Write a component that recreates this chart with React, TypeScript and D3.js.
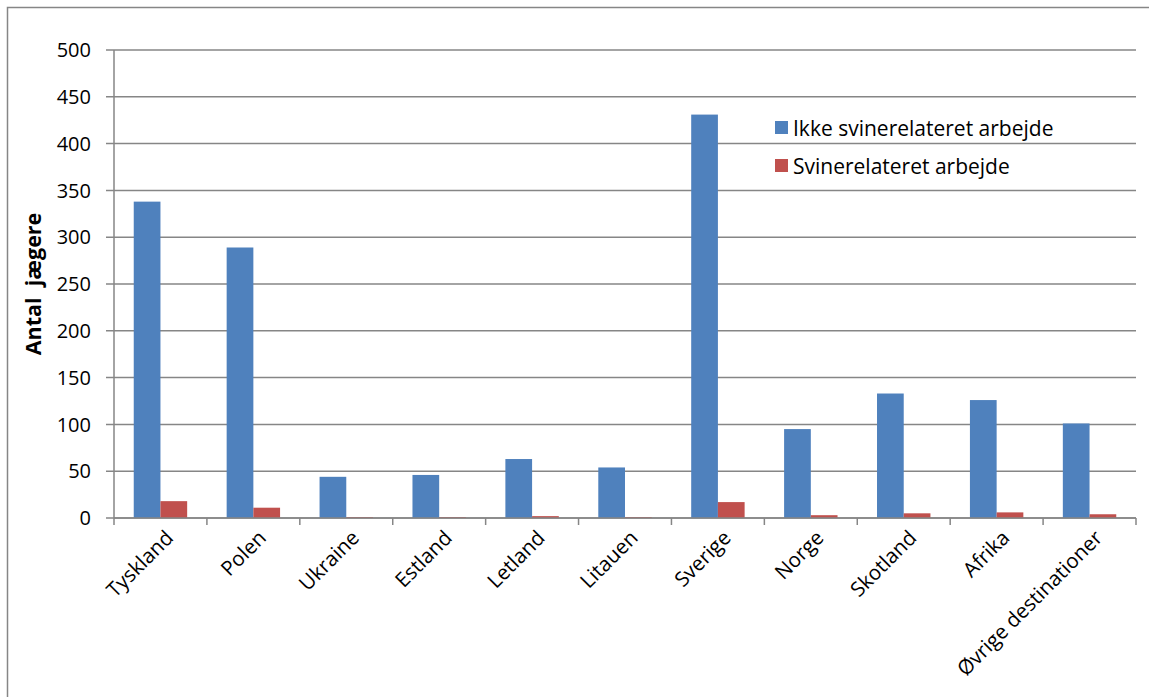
import React from "react";
import * as d3 from "d3";

const categories = [
  "Tyskland", "Polen", "Ukraine", "Estland", "Letland", "Litauen",
  "Sverige", "Norge", "Skotland", "Afrika", "Øvrige destinationer",
];
const ikkeSvin = [338, 289, 44, 46, 63, 54, 431, 95, 133, 126, 101];
const svin = [18, 11, 1, 1, 2, 1, 17, 3, 5, 6, 4];
const seriesNames = ["Ikke svinerelateret arbejde", "Svinerelateret arbejde"];
const seriesColors = ["#4f81bd", "#c0504d"];
const yTicks = [0, 50, 100, 150, 200, 250, 300, 350, 400, 450, 500];

const W = 1149;
const H = 697;
const left = 114;
const right = 1136;
const top = 50;
const bottom = 518;
const FONT = "'Open Sans', 'Noto Sans', sans-serif";
const GRID = "#868686";

export default function App() {
  const x = d3.scaleBand<string>().domain(categories).range([left, right]).padding(0);
  const y = d3.scaleLinear().domain([0, 500]).range([bottom, top]);
  const bw = x.bandwidth() * 0.2875;
  const series = [ikkeSvin, svin];
  const boundaries = d3.range(categories.length + 1).map((i) => left + i * x.step());

  return (
    <svg width={W} height={H} style={{ position: "absolute", left: 0, top: 0, background: "#fff" }}>
      <rect x={0} y={0} width={W} height={H} fill="#fff" />
      <path d={`M7.5,${H + 5}V7.5H${W + 5}`} fill="none" stroke={GRID} strokeWidth={1.5} />
      {yTicks.map((t) => (
        <g key={t}>
          <line x1={left - 8} x2={right} y1={y(t)} y2={y(t)} stroke={GRID} strokeWidth={1.5} />
          <text x={91} y={y(t)} dy="0.36em" textAnchor="end" fontFamily={FONT} fontSize={20} fill="#000">
            {t}
          </text>
        </g>
      ))}
      <line x1={left} x2={left} y1={top} y2={bottom} stroke={GRID} strokeWidth={1.5} />
      {series.map((vals, si) =>
        vals.map((v, i) => {
          const cx = (x(categories[i]) as number) + x.bandwidth() / 2;
          const bx = cx - bw + si * bw;
          return (
            <rect
              key={`${si}-${i}`}
              x={bx}
              y={y(v)}
              width={bw}
              height={bottom - y(v)}
              fill={seriesColors[si]}
            />
          );
        })
      )}
      <line x1={left} x2={right} y1={bottom} y2={bottom} stroke={GRID} strokeWidth={1.5} />
      {boundaries.map((b, i) => (
        <line key={i} x1={b} x2={b} y1={bottom} y2={bottom + 7} stroke={GRID} strokeWidth={1.5} />
      ))}
      {categories.map((c) => {
        const cx = (x(c) as number) + x.bandwidth() / 2 + 4;
        return (
          <text
            key={c}
            transform={`translate(${cx},${bottom + 11}) rotate(-45)`}
            textAnchor="end"
            dy="0.7em"
            fontFamily={FONT}
            fontSize={20.5}
            fill="#000"
          >
            {c}
          </text>
        );
      })}
      <text
        transform={`translate(41,${(top + bottom) / 2}) rotate(-90)`}
        textAnchor="middle"
        fontFamily={FONT}
        fontSize={21.5}
        fontWeight="bold"
        fill="#000"
        style={{ whiteSpace: "pre" }}
      >
        {"Antal  jægere"}
      </text>
      {seriesNames.map((n, i) => (
        <g key={n} transform={`translate(775,${121 + i * 38})`}>
          <rect x={0} y={0} width={13} height={13} fill={seriesColors[i]} />
          <text x={18} y={7} dy="0.36em" fontFamily={FONT} fontSize={21} fill="#000">
            {n}
          </text>
        </g>
      ))}
    </svg>
  );
}
